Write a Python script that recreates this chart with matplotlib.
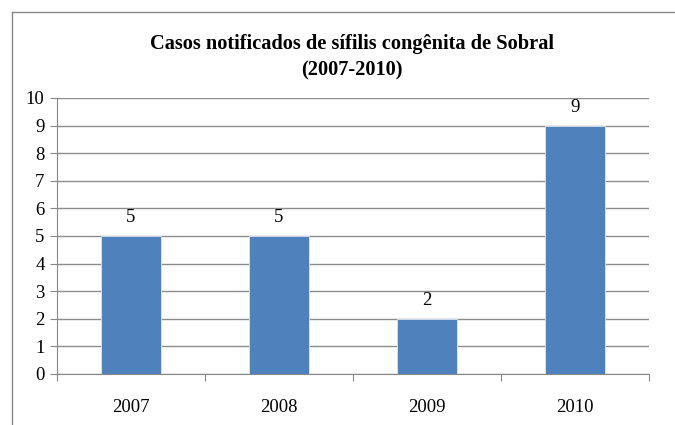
import matplotlib.pyplot as plt
from matplotlib.lines import Line2D

# datos del gráfico
anos = ['2007', '2008', '2009', '2010']
casos = [5, 5, 2, 9]
titulo = 'Casos notificados de sífilis congênita de Sobral\n(2007-2010)'

plt.rcParams['font.family'] = ['Liberation Serif', 'DejaVu Serif']

fig = plt.figure(figsize=(6.75, 4.25), dpi=100)
ax = fig.add_axes([57 / 675, 1 - 374 / 425, (649 - 57) / 675, (374 - 98) / 425])

x = range(len(anos))
ax.bar(x, casos, width=0.405, color='#4F81BD', edgecolor='#DCE6F2', linewidth=0.6, zorder=3)

for xi, v in zip(x, casos):
    ax.annotate(str(v), (xi, v), xytext=(0, 7), textcoords='offset points',
                ha='center', va='bottom', fontsize=13.5)

ax.set_xlim(-0.5, len(anos) - 0.5)
ax.set_ylim(0, 10)
ax.set_yticks(range(0, 11))
ax.tick_params(axis='y', length=5, width=0.8, color='#888888', labelsize=13.5, pad=4)
ax.set_xticks(x)
ax.set_xticklabels(anos)
ax.tick_params(axis='x', length=0, labelsize=13.5, pad=18)
# marcas entre categorias
ax.set_xticks([i - 0.5 for i in range(len(anos) + 1)], minor=True)
ax.tick_params(axis='x', which='minor', length=5, width=0.8, color='#888888')

ax.grid(axis='y', color='#8C8C8C', linewidth=1.0, zorder=0)
for lado in ['top', 'right']:
    ax.spines[lado].set_visible(False)
ax.spines['left'].set_color('#888888')
ax.spines['bottom'].set_color('#888888')

fig.text(352 / 675, 1 - 57 / 425, titulo, ha='center', va='center',
         fontsize=14.7, fontweight='bold', linespacing=1.45)

# borda do gráfico
fig.add_artist(Line2D([12 / 675, 12 / 675], [0, 1 - 12 / 425], color='#888888', linewidth=1))
fig.add_artist(Line2D([12 / 675, 1], [1 - 12 / 425, 1 - 12 / 425], color='#888888', linewidth=1))

fig.savefig('out.png', dpi=100)
